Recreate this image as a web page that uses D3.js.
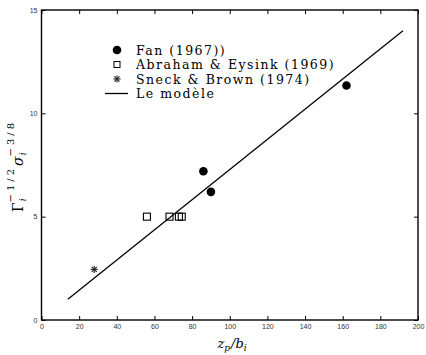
<!DOCTYPE html>
<html>
<head>
<meta charset="utf-8">
<script src="https://cdn.jsdelivr.net/npm/d3@7"></script>
<style>
  body { margin: 0; background: #fff; }
  .tick text { font-family: "Liberation Sans", Arial, sans-serif; font-size: 7px; fill: #333; }
  .leg { font-family: "DejaVu Serif", serif; font-size: 12.5px; letter-spacing: 1.5px; fill: #000; }
</style>
</head>
<body>
<svg width="426" height="355"></svg>
<script>
// data
var fanX = [86, 90, 162];
var fanY = [7.2, 6.2, 11.35];
var abrX = [56, 68, 73, 74.5];
var abrY = [5, 5, 5, 5];
var sneckX = [28];
var sneckY = [2.45];
var modelX = [14, 192];
var modelY = [1, 14];
var xTicks = [0, 20, 40, 60, 80, 100, 120, 140, 160, 180, 200];
var yTicks = [0, 5, 10, 15];
var legendLabels = ["Fan (1967))", "Abraham & Eysink (1969)", "Sneck & Brown (1974)", "Le modèle"];

var svg = d3.select("svg");
var m = {left: 41.5, right: 8, top: 10, bottom: 35};
var W = 426, H = 355;

var x = d3.scaleLinear().domain([0, 200]).range([m.left, W - m.right]);
var y = d3.scaleLinear().domain([0, 15]).range([H - m.bottom, m.top]);

// axes with inward ticks
svg.append("g").attr("transform", "translate(0," + y(0) + ")")
  .call(d3.axisBottom(x).tickValues(xTicks).tickSizeInner(-4).tickSizeOuter(0).tickPadding(4))
  .call(g => g.select(".domain").remove());
svg.append("g").attr("transform", "translate(0," + y(15) + ")")
  .call(d3.axisTop(x).tickValues(xTicks).tickSizeInner(-4).tickSizeOuter(0).tickFormat(""))
  .call(g => g.select(".domain").remove());
svg.append("g").attr("transform", "translate(" + x(0) + ",0)")
  .call(d3.axisLeft(y).tickValues(yTicks).tickSizeInner(-4).tickSizeOuter(0).tickPadding(4))
  .call(g => g.select(".domain").remove());
svg.append("g").attr("transform", "translate(" + x(200) + ",0)")
  .call(d3.axisRight(y).tickValues(yTicks).tickSizeInner(-4).tickSizeOuter(0).tickFormat(""))
  .call(g => g.select(".domain").remove());
svg.selectAll(".tick line").attr("stroke", "#000").attr("stroke-width", 1);

svg.append("rect")
  .attr("x", x(0)).attr("y", y(15))
  .attr("width", x(200) - x(0)).attr("height", y(0) - y(15))
  .attr("fill", "none").attr("stroke", "#000").attr("stroke-width", 1.4);

// model line
svg.append("path")
  .attr("d", d3.line().x(d => x(d[0])).y(d => y(d[1]))(d3.zip(modelX, modelY)))
  .attr("stroke", "#000").attr("stroke-width", 1.3).attr("fill", "none");

// Fan
svg.selectAll(".fan").data(d3.zip(fanX, fanY)).enter().append("circle")
  .attr("cx", d => x(d[0])).attr("cy", d => y(d[1])).attr("r", 4.3).attr("fill", "#000");

// Abraham & Eysink
svg.selectAll(".abr").data(d3.zip(abrX, abrY)).enter().append("rect")
  .attr("x", d => x(d[0]) - 3.5).attr("y", d => y(d[1]) - 3.5)
  .attr("width", 7).attr("height", 7)
  .attr("fill", "none").attr("stroke", "#000").attr("stroke-width", 1.1);

// Sneck & Brown
function asterisk(g, cx, cy) {
  var r = 3.6;
  for (var k = 0; k < 4; k++) {
    var a = k * Math.PI / 4;
    g.append("line")
      .attr("x1", cx - r * Math.cos(a)).attr("y1", cy - r * Math.sin(a))
      .attr("x2", cx + r * Math.cos(a)).attr("y2", cy + r * Math.sin(a))
      .attr("stroke", "#222").attr("stroke-width", 1.1);
  }
}
d3.zip(sneckX, sneckY).forEach(d => asterisk(svg, x(d[0]), y(d[1])));

// legend
var leg = svg.append("g");
var rowY = [50, 64.5, 79, 93.5];
leg.append("circle").attr("cx", 117).attr("cy", rowY[0]).attr("r", 4.3).attr("fill", "#000");
leg.append("rect").attr("x", 114).attr("y", rowY[1] - 3).attr("width", 6).attr("height", 6)
  .attr("fill", "none").attr("stroke", "#000").attr("stroke-width", 1);
asterisk(leg, 117, rowY[2]);
leg.append("line").attr("x1", 105).attr("x2", 128).attr("y1", rowY[3]).attr("y2", rowY[3])
  .attr("stroke", "#000").attr("stroke-width", 1.3);
leg.selectAll("text").data(legendLabels).enter().append("text")
  .attr("class", "leg")
  .attr("x", 136).attr("y", (d, i) => rowY[i] + 4.5)
  .text(d => d);

// axis labels
var xl = svg.append("text").attr("x", 232).attr("y", 348)
  .attr("text-anchor", "middle").attr("font-family", "DejaVu Serif, serif").attr("font-size", 13)
  .attr("font-style", "italic");
xl.append("tspan").text("z");
xl.append("tspan").attr("dy", 3).attr("font-size", 9).text("p");
xl.append("tspan").attr("dy", -3).attr("dx", 1).text("/b");
xl.append("tspan").attr("dy", 3).attr("font-size", 9).text("i");

var yl = svg.append("text").attr("transform", "translate(23,166) rotate(-90)")
  .attr("text-anchor", "middle").attr("font-family", "DejaVu Serif, serif").attr("font-size", 14)
  .attr("letter-spacing", "1px");
yl.append("tspan").text("Γ");
yl.append("tspan").attr("dy", 3).attr("font-size", 9).attr("font-style", "italic").text("i");
yl.append("tspan").attr("dy", -12).attr("dx", -5).attr("font-size", 10).attr("letter-spacing", "3px").text("−1/2");
yl.append("tspan").attr("dy", 9).attr("font-style", "italic").text("σ");
yl.append("tspan").attr("dy", 3).attr("font-size", 9).attr("font-style", "italic").text("i");
yl.append("tspan").attr("dy", -12).attr("dx", -5).attr("font-size", 10).attr("letter-spacing", "3px").text("−3/8");
</script>
</body>
</html>
